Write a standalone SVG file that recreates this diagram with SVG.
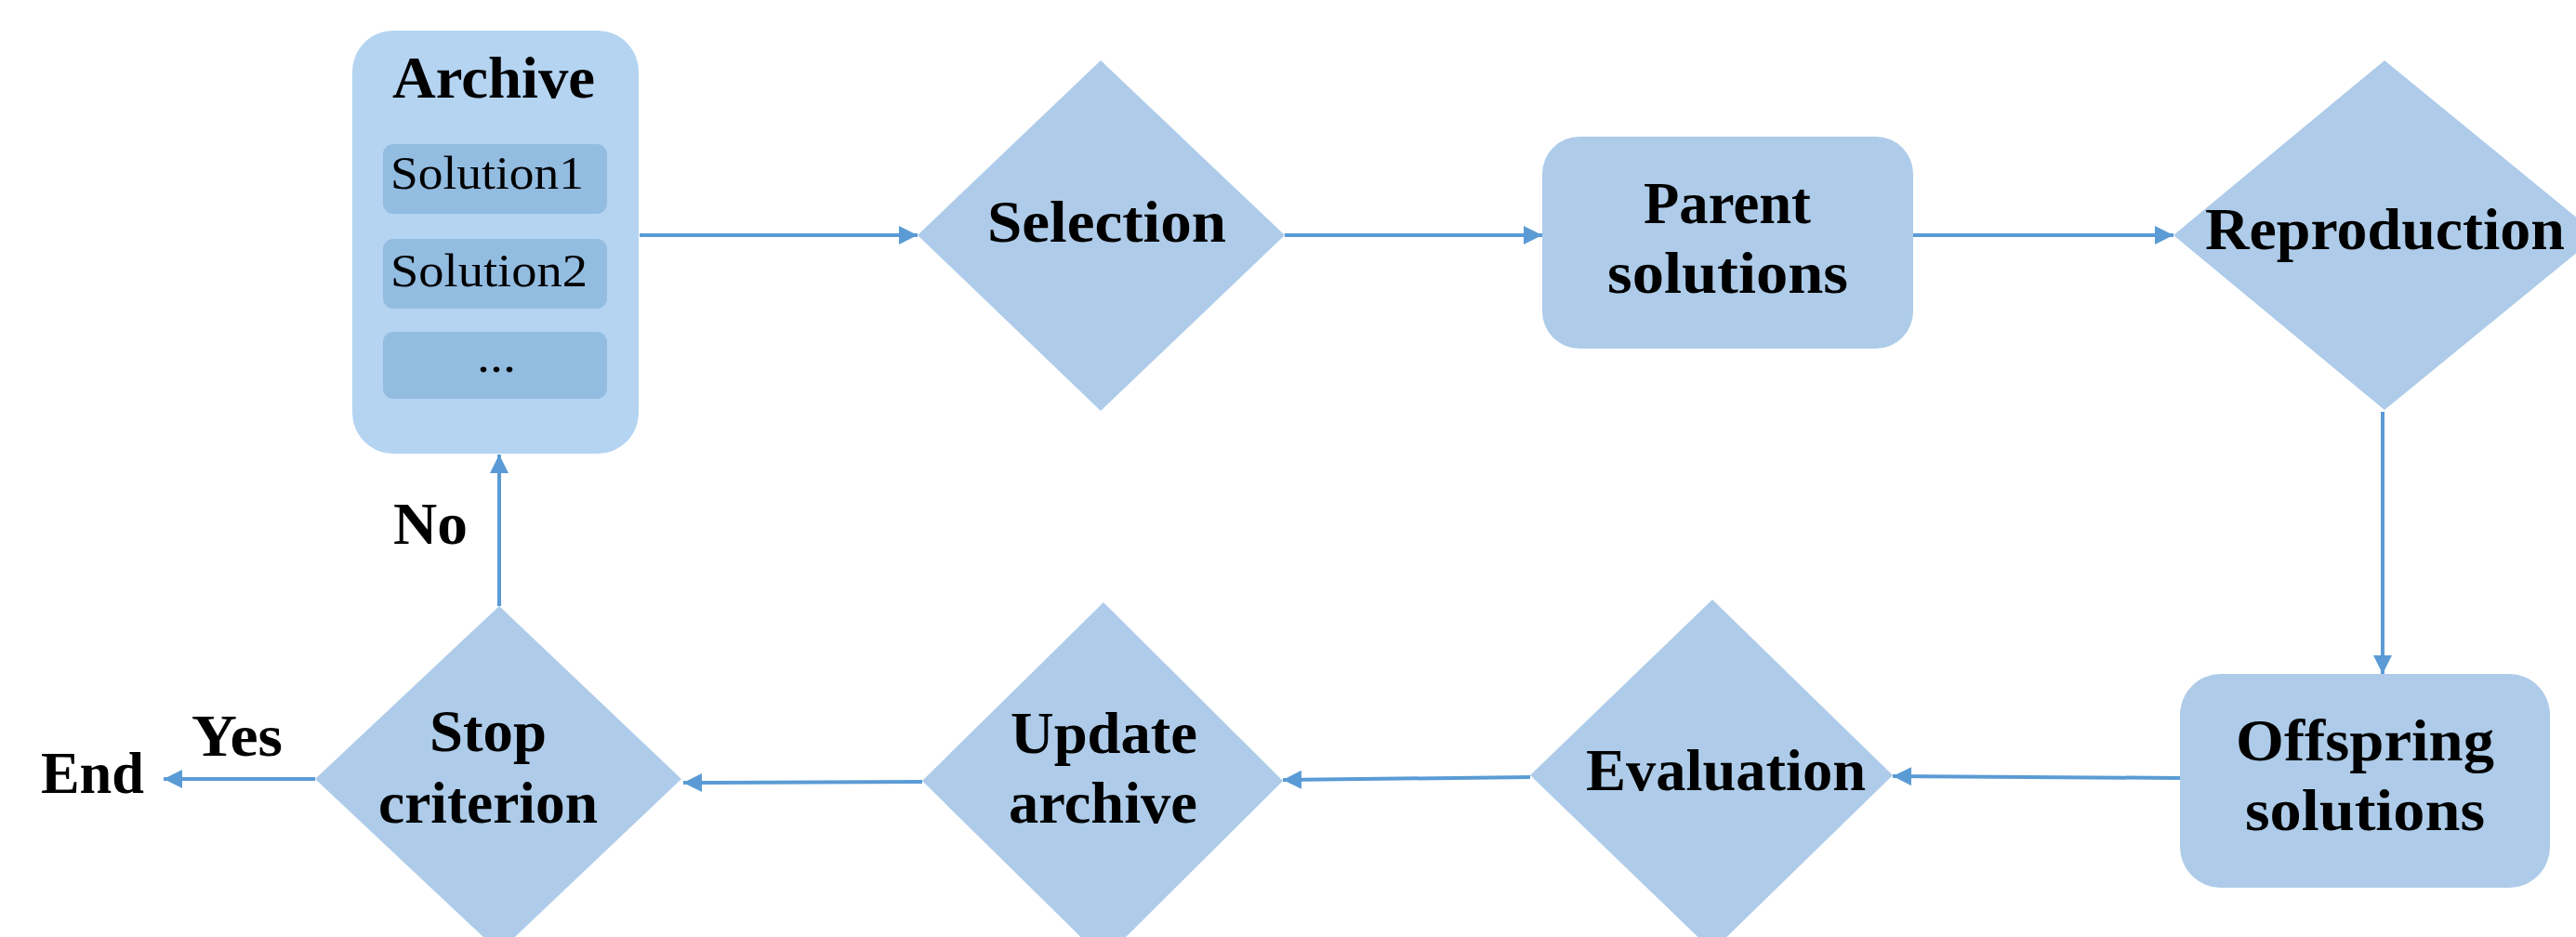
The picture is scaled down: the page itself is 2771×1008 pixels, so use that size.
<svg xmlns="http://www.w3.org/2000/svg" width="2771" height="1008" viewBox="0 0 2771 1008">
  <style>
    .node { fill: #aecce9; }
    .outer { fill: #b4d4f1; }
    .slot { fill: #93bce1; }
    .lbl { font-family: "Liberation Serif", "Times New Roman", serif; font-weight: bold; font-size: 63px; fill: #000; }
    .item { font-family: "Liberation Serif", "Times New Roman", serif; font-size: 50px; fill: #000; }
    .edge { stroke: #5b9bd5; stroke-width: 4; fill: none; marker-end: url(#head); }
  </style>
  <defs>
    <marker id="head" markerUnits="userSpaceOnUse" markerWidth="22" markerHeight="22" refX="20" refY="10" orient="auto">
      <path d="M0,0 L20,10 L0,20 z" fill="#5b9bd5"/>
    </marker>
  </defs>
  <rect width="2771" height="1008" fill="#ffffff"/>

  <!-- archive container with solution slots -->
  <g id="archive">
    <rect class="outer" x="379" y="33" width="308" height="455" rx="44"/>
    <text class="lbl" x="422" y="105" textLength="218" lengthAdjust="spacingAndGlyphs">Archive</text>
    <rect class="slot" x="412" y="155" width="241" height="75" rx="11"/>
    <text class="item" x="420" y="203" textLength="208" lengthAdjust="spacingAndGlyphs">Solution1</text>
    <rect class="slot" x="412" y="257" width="241" height="75" rx="11"/>
    <text class="item" x="420" y="308" textLength="212" lengthAdjust="spacingAndGlyphs">Solution2</text>
    <rect class="slot" x="412" y="357" width="241" height="72" rx="11"/>
    <text class="item" x="513" y="400" textLength="42" lengthAdjust="spacingAndGlyphs">...</text>
  </g>

  <g id="selection">
    <polygon class="node" points="1184,65 1382,253 1184,442 987,253"/>
    <text class="lbl" x="1062" y="260" textLength="257" lengthAdjust="spacingAndGlyphs">Selection</text>
  </g>

  <g id="parent">
    <rect class="node" x="1659" y="147" width="399" height="228" rx="40"/>
    <text class="lbl" x="1768" y="240" textLength="180" lengthAdjust="spacingAndGlyphs">Parent</text>
    <text class="lbl" x="1729" y="315" textLength="259" lengthAdjust="spacingAndGlyphs">solutions</text>
  </g>

  <g id="reproduction">
    <polygon class="node" points="2565,65 2795,253 2565,441 2338,253"/>
    <text class="lbl" x="2372" y="268" textLength="387" lengthAdjust="spacingAndGlyphs">Reproduction</text>
  </g>

  <g id="offspring">
    <rect class="node" x="2345" y="725" width="398" height="230" rx="44"/>
    <text class="lbl" x="2405" y="818" textLength="278" lengthAdjust="spacingAndGlyphs">Offspring</text>
    <text class="lbl" x="2415" y="893" textLength="258" lengthAdjust="spacingAndGlyphs">solutions</text>
  </g>

  <g id="evaluation">
    <polygon class="node" points="1842,645 2036,834 1842,1023 1646,834"/>
    <text class="lbl" x="1706" y="850" textLength="301" lengthAdjust="spacingAndGlyphs">Evaluation</text>
  </g>

  <g id="update">
    <polygon class="node" points="1187,648 1380,840 1187,1032 992,840"/>
    <text class="lbl" x="1087" y="810" textLength="201" lengthAdjust="spacingAndGlyphs">Update</text>
    <text class="lbl" x="1085" y="885" textLength="203" lengthAdjust="spacingAndGlyphs">archive</text>
  </g>

  <g id="stop">
    <polygon class="node" points="537,652 733,838 537,1024 339,838"/>
    <text class="lbl" x="462" y="808" textLength="126" lengthAdjust="spacingAndGlyphs">Stop</text>
    <text class="lbl" x="407" y="885" textLength="236" lengthAdjust="spacingAndGlyphs">criterion</text>
  </g>

  <g id="end">
    <text class="lbl" x="44" y="853" textLength="111" lengthAdjust="spacingAndGlyphs">End</text>
  </g>

  <g id="connectors">
    <line class="edge" x1="688" y1="253" x2="987" y2="253"/>
    <line class="edge" x1="1382" y1="253" x2="1659" y2="253"/>
    <line class="edge" x1="2058" y1="253" x2="2338" y2="253"/>
    <line class="edge" x1="2563" y1="443" x2="2563" y2="725"/>
    <line class="edge" x1="2345" y1="837" x2="2036" y2="835"/>
    <line class="edge" x1="1646" y1="836" x2="1380" y2="839"/>
    <line class="edge" x1="992" y1="841" x2="735" y2="842"/>
    <line class="edge" x1="339" y1="838" x2="176" y2="838"/>
    <line class="edge" x1="537" y1="652" x2="537" y2="489"/>
    <text class="lbl" x="206" y="813" textLength="98" lengthAdjust="spacingAndGlyphs">Yes</text>
    <text class="lbl" x="423" y="585" textLength="80" lengthAdjust="spacingAndGlyphs">No</text>
  </g>
</svg>
